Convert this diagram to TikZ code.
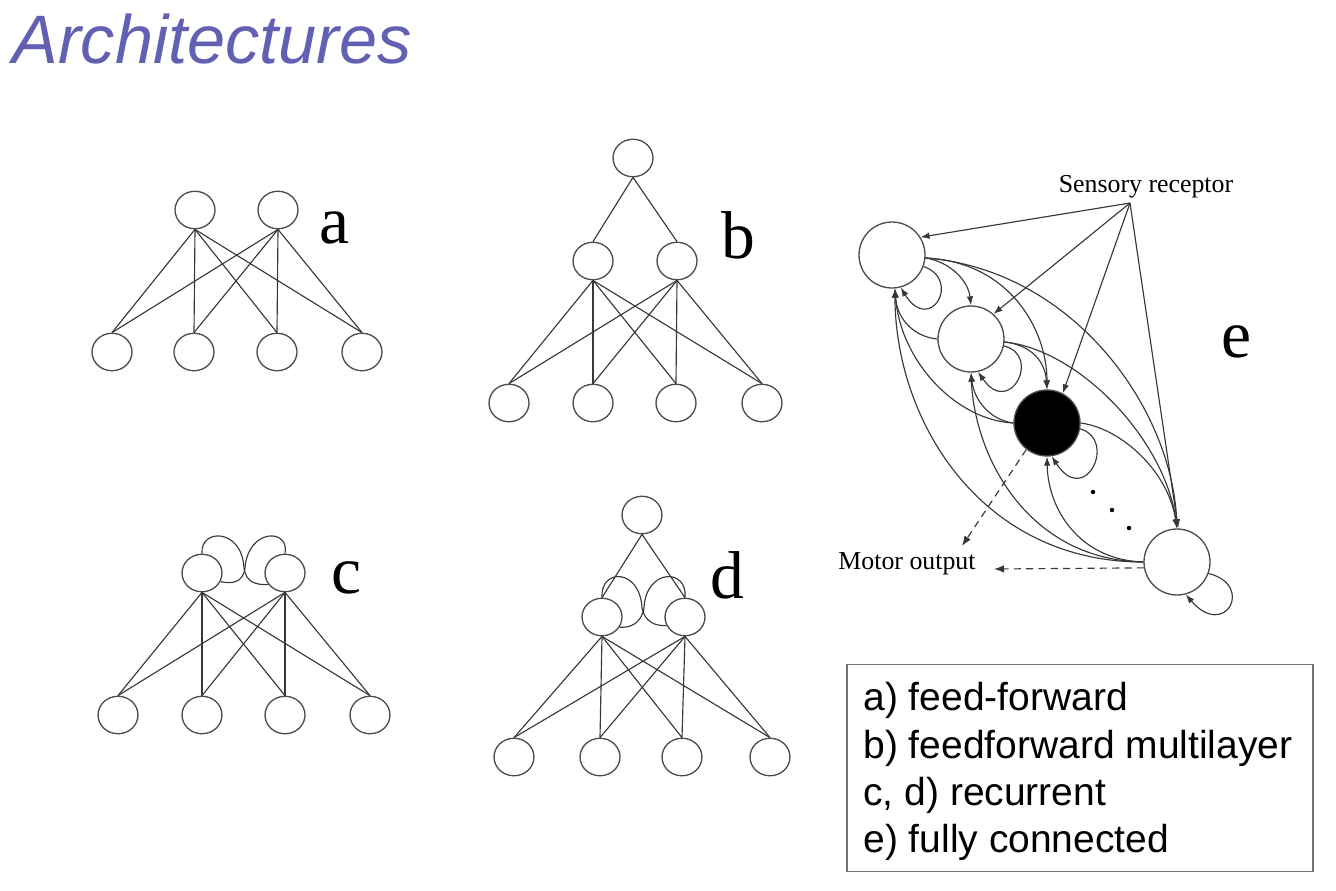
\documentclass[tikz,border=0pt]{standalone}
\usepackage{fontspec}
\usepackage{graphicx}
\setmainfont{Liberation Serif}
\newfontfamily\sansf{Liberation Sans}
\usetikzlibrary{shapes.geometric,arrows.meta}
\definecolor{titleblue}{RGB}{98,96,178}
\begin{document}
\begin{tikzpicture}[x=0.02cm,y=-0.02cm,
  unit/.style={draw=black!70, line width=0.75pt, fill=white, ellipse, minimum width=0.8cm, minimum height=0.75cm, inner sep=0pt},
  wire/.style={draw=black!78, line width=0.65pt},
  lbl/.style={font=\fontsize{38.5}{40}\selectfont, anchor=base, inner sep=0pt},
  bignode/.style={draw=black!70, line width=0.75pt, fill=white, circle, minimum size=1.32cm, inner sep=0pt},
  arr/.style={wire, -{Latex[length=1.8mm,width=1.3mm]}},
  darr/.style={wire, dashed, dash pattern=on 4pt off 3pt, -{Latex[length=2mm,width=1.5mm]}},
  small/.style={font=\fontsize{14.7}{16}\selectfont, anchor=base, inner sep=0pt},
  legtext/.style={font=\sansf\fontsize{22.2}{24}\selectfont, anchor=base west, inner sep=0pt},
  dotn/.style={circle, fill=black, minimum size=0.09cm, inner sep=0pt},
]
\useasboundingbox (0,0) rectangle (1336,890);

% title
\node[anchor=base west, inner sep=0pt, text=titleblue, font=\sansf\itshape\fontsize{39}{42}\selectfont] (title) at (12,63) {Architectures};

% ---------- a ----------
\node[unit] (a1) at (195,210) {};
\node[unit] (a2) at (278,210) {};
\foreach \i/\x in {1/112,2/194,3/277,4/362} \node[unit] (ab\i) at (\x,352) {};
\foreach \t in {a1,a2} \foreach \i in {1,...,4} \draw[wire] (\t.south) -- (ab\i.north);
\node[lbl] (la) at (335,243) {a};

% ---------- b ----------
\node[unit] (b0) at (633,158) {};
\node[unit] (b1) at (593,261) {};
\node[unit] (b2) at (677,261) {};
\foreach \i/\x in {1/509,2/593,3/676,4/762} \node[unit] (bb\i) at (\x,403) {};
\draw[wire] (b0.south) -- (b1.north);
\draw[wire] (b0.south) -- (b2.north);
\foreach \t in {b1,b2} \foreach \i in {1,...,4} \draw[wire] (\t.south) -- (bb\i.north);
\node[lbl] (lb) at (738,258) {b};

% ---------- c ----------
\node[unit] (c1) at (202,573) {};
\node[unit] (c2) at (285,573) {};
\foreach \i/\x in {1/118,2/202,3/285,4/370} \node[unit] (cb\i) at (\x,715) {};
\foreach \t in {c1,c2} \foreach \i in {1,...,4} \draw[wire] (\t.south) -- (cb\i.north);
\draw[wire] (c1.north) .. controls (200,528) and (242,528) .. (244,568) .. controls (246,582) and (255,585) .. (c2.215);
\draw[wire] (c2.north) .. controls (290,528) and (248,528) .. (245,568) .. controls (243,583) and (232,584) .. (c1.-25);
\node[lbl] (lc) at (347,593) {c};

% ---------- d ----------
\node[unit] (d0) at (642,515) {};
\node[unit] (d1) at (602,617) {};
\node[unit] (d2) at (685,617) {};
\foreach \i/\x in {1/514,2/600,3/682,4/770} \node[unit] (db\i) at (\x,757) {};
\draw[wire] (d0.south) -- (d1.north);
\draw[wire] (d0.south) -- (d2.north);
\foreach \t in {d1,d2} \foreach \i in {1,...,4} \draw[wire] (\t.south) -- (db\i.north);
\draw[wire] (d1.north) .. controls (600,568) and (640,568) .. (642,608) .. controls (645,622) and (655,626) .. (d2.205);
\draw[wire] (d2.north) .. controls (688,568) and (646,568) .. (644,608) .. controls (641,624) and (630,628) .. (d1.-30);
\node[lbl] (ld) at (727,598) {d};

% ---------- e ----------
\node[bignode] (e1) at (892,255) {};
\node[bignode] (e2) at (971,339) {};
\node[bignode, fill=black] (e3) at (1047,423) {};
\node[bignode] (e4) at (1177,562) {};
\coordinate (S) at (1130,203);
\node[small] (sens) at (1146,192) {Sensory receptor};
\node[small] (motor) at (907,569) {Motor output};
\coordinate (mo1) at (962,546);
\coordinate (mo2) at (994,569);
\node[lbl] (le) at (1237,357) {e};

% sensory inputs
\draw[arr] (S) -- (e1.32);
\draw[arr] (S) -- (e2.48);
\draw[arr] (S) -- (e3.62);
\draw[arr] (S) -- (e4.88);

% forward connections
\draw[arr] (e1.-5) .. controls (950,262) and (968,280) .. (e2.north);
\draw[arr] (e1.-5) .. controls (1010,262) and (1047,330) .. (e3.north);
\draw[arr] (e1.-5) .. controls (1075,270) and (1172,410) .. (e4.north);
\draw[arr] (e2.-5) .. controls (1030,345) and (1045,360) .. (e3.north);
\draw[arr] (e2.-5) .. controls (1080,350) and (1165,440) .. (e4.north);
\draw[arr] (e3.east) .. controls (1120,428) and (1168,470) .. (e4.north);

% backward connections
\draw[arr] (e2.west) .. controls (915,337) and (897,320) .. (e1.-85);
\draw[arr] (e3.west) .. controls (955,420) and (900,360) .. (e1.-85);
\draw[arr] (e4.west) .. controls (980,562) and (895,420) .. (e1.-85);
\draw[arr] (e3.west) .. controls (990,420) and (974,400) .. (e2.south);
\draw[arr] (e4.west) .. controls (1030,560) and (975,460) .. (e2.south);
\draw[arr] (e4.west) .. controls (1080,560) and (1048,510) .. (e3.south);

% self loops
\draw[arr] (e1.-20) .. controls (962,280) and (930,335) .. (e1.-75);
\draw[arr] (e2.-12) .. controls (1042,355) and (1010,418) .. (e2.-78);
\draw[arr] (e3.-10) .. controls (1118,440) and (1085,508) .. (e3.-82);
\draw[arr] (e4.-20) .. controls (1255,585) and (1225,640) .. (e4.-75);

% motor outputs
\draw[darr] (e3.232) -- (mo1);
\draw[darr] (e4.190) -- (mo2);

% dots
\node[dotn] (dt1) at (1093,492) {};
\node[dotn] (dt2) at (1112,510) {};
\node[dotn] (dt3) at (1129,528) {};

% ---------- legend ----------
\node[draw=black!55, line width=0.7pt, minimum width=9.32cm, minimum height=4.14cm, inner sep=0pt] (legend) at (1080,768) {};
\node[legtext] (l1) at (863,710) {a) feed-forward};
\node[legtext] (l2) at (863,758) {b) feedforward multilayer};
\node[legtext] (l3) at (863,805) {c, d) recurrent};
\node[legtext] (l4) at (863,852) {e) fully connected};
\end{tikzpicture}
\end{document}
